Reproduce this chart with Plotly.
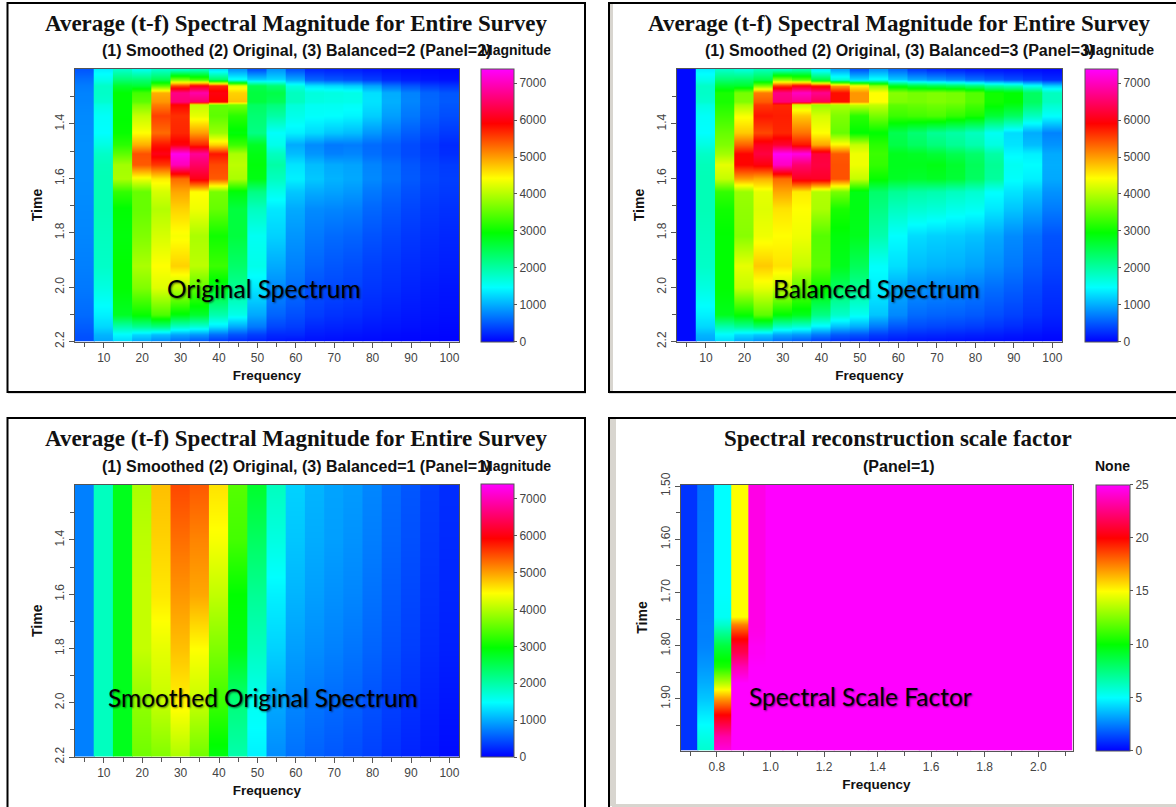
import plotly.graph_objects as go

W, H = 1176, 807

# ---------- data ----------
freq = [5, 10, 15, 20, 25, 30, 35, 40, 45, 50, 55, 60, 65, 70, 75, 80, 85, 90, 95, 100]
times = [1.20, 1.235, 1.26, 1.285, 1.318, 1.33, 1.37, 1.43, 1.475, 1.51, 1.55, 1.60, 1.65, 1.71, 1.81, 1.92, 2.00, 2.10, 2.145, 2.175, 2.20]

original = [
    [500,650,720,760,770,780,800,820,830,830,830,830,820,800,780,740,700,620,540,480,450],
    [1400,1600,1800,1800,1750,1650,1520,1480,1650,1800,1880,1900,1900,1900,1850,1800,1650,1400,1250,1050,950],
    [1800,2300,2700,2950,2950,2950,2950,3000,3200,3500,3900,3950,3250,2950,2900,2950,2950,2750,1950,1450,1250],
    [1600,2300,2650,3350,3500,3700,4100,4440,4900,5450,5400,4350,3550,3550,3700,3950,3700,3000,2100,1250,950],
    [1800,2500,3500,4900,5050,5200,5550,5300,5800,6050,5600,4550,4200,4000,4200,4440,4250,3400,2200,1100,780],
    [1800,3700,5500,6700,6600,5900,5650,5700,6000,7300,7000,5300,4950,4700,4400,4700,4050,2900,1800,950,600],
    [1900,3400,6000,6900,6500,4100,4300,5000,5700,6800,6500,6050,4450,4350,3950,4050,3500,2700,1700,870,470],
    [1330,2400,5700,6000,5900,3550,3500,3850,4700,5800,5500,5400,3650,3550,3050,3300,2800,1950,1330,640,300],
    [870,1550,4300,4700,4800,3650,3200,2900,3300,3950,4050,3950,2900,2600,2600,2350,2100,1600,980,470,230],
    [470,1220,2500,2600,2600,2400,2300,2200,2750,2850,2900,2850,2200,1850,1550,1600,1350,980,700,350,180],
    [870,1280,2300,2550,2450,2250,2000,1500,1600,1850,2000,1850,1600,1350,1220,990,810,580,400,230,120],
    [470,990,1650,1850,1850,1700,1600,1400,990,1100,1330,1400,1160,990,870,750,640,460,350,230,90],
    [230,580,1330,1680,1650,1550,1500,1270,810,870,1100,1160,990,810,700,580,460,350,230,150,80],
    [200,500,1270,1650,1620,1550,1480,1160,700,750,990,1040,940,780,620,500,420,290,200,130,70],
    [180,450,1200,1620,1600,1520,1430,1100,720,780,950,980,880,740,580,450,380,260,180,110,60],
    [130,350,950,1300,1320,1300,1200,880,620,640,770,800,700,600,480,370,310,210,140,90,50],
    [80,230,650,1000,1020,1000,920,700,540,540,640,660,580,500,400,310,260,170,120,70,40],
    [50,160,480,760,780,760,700,540,430,430,500,520,460,400,320,250,200,130,90,50,30],
    [40,120,360,580,600,590,540,420,330,340,390,410,370,320,260,200,150,100,70,40,20],
    [30,90,300,500,520,500,450,330,240,260,340,360,330,280,220,170,120,80,50,30,15],
]

balanced = [
    [50,50,50,50,50,50,50,50,50,50,50,50,50,50,50,50,50,50,50,50,50],
    [1400,1600,1800,1800,1750,1650,1520,1480,1650,1800,1880,1900,1900,1900,1850,1800,1650,1400,1250,1050,950],
    [1800,2300,2700,3100,3100,3150,3300,3550,3700,3900,4300,4100,3250,3050,2950,2950,2950,2800,1950,1450,1250],
    [1700,2350,2700,3650,3700,3950,4400,4750,5350,5900,5900,5000,3850,3800,3750,4300,4100,3000,2100,1250,950],
    [1900,2550,3700,5200,5400,5600,5800,5500,6100,6300,6000,4900,4300,4250,4350,4750,4300,3500,2300,1150,800],
    [1850,3800,5600,6700,6600,5700,5750,5700,6200,7350,7050,5300,4950,4600,4440,4600,4100,2950,1800,950,600],
    [2000,3500,6000,7050,6700,4150,4750,5250,5800,7250,6550,6100,4550,4440,4350,4100,3550,2800,1700,880,480],
    [1400,2600,5800,6750,6400,3850,4200,4440,4950,6250,6300,6150,4000,3950,3450,3500,3050,2200,1400,700,330],
    [950,1750,5000,5850,5850,3950,3700,3550,4500,5400,5450,5450,3650,3100,2900,2800,2400,1800,1100,520,250],
    [500,1300,4500,5050,5050,4100,3200,2950,4100,4350,4350,4100,2850,2850,2800,2450,2100,1550,1000,480,200],
    [870,1550,3800,4440,4440,4100,3650,2950,3200,3300,3250,3000,2350,2200,1950,1500,1400,1150,700,350,150],
    [600,1200,2800,3750,3700,3500,3300,2500,2550,2800,2800,2750,2100,1850,1480,1300,1000,800,500,280,120],
    [350,1000,2600,3650,3650,3550,3350,2300,2400,2750,2800,2700,2000,1750,1280,1100,850,620,430,240,100],
    [250,900,2500,3700,3700,3600,3400,2100,2250,2650,2850,2750,1950,1700,1220,1050,800,580,400,220,90],
    [200,800,2400,3650,3650,3550,3250,2000,2100,2500,2700,2650,1850,1600,1190,1020,780,560,380,200,80],
    [150,650,2250,3450,3450,3350,3100,1850,1950,2350,2450,2400,1750,1550,1130,950,720,520,350,180,70],
    [120,550,2000,3050,3050,3000,2650,1550,1650,2000,2100,2050,1500,1350,990,830,640,450,300,160,60],
    [100,450,1900,2950,2950,2850,2400,1280,1330,1450,1550,1500,1330,1150,810,700,550,380,250,130,50],
    [70,350,1550,2400,2400,2300,1850,1000,1100,1400,1480,1400,1150,950,650,540,420,300,190,100,40],
    [50,250,1200,1850,1850,1750,1500,760,860,990,1010,980,850,720,480,400,300,210,130,70,30],
]

times_smooth = [1.2, 1.4, 1.6, 1.8, 2.0, 2.2]
smoothed = [
    [740,740,740,740,740,740],
    [1850,1850,1850,1850,1850,1850],
    [2800,2800,2800,2800,2800,2800],
    [3950,4050,4100,4100,3800,3600],
    [4810,4700,4570,4300,4100,3700],
    [5500,5280,5050,4800,4500,3950],
    [5400,5150,4950,4440,4100,3600],
    [4600,4400,4080,3700,3300,2850],
    [3450,3350,2960,2850,2250,1950],
    [2700,2400,2100,1850,1550,1400],
    [1850,1650,1400,1220,980,810],
    [1220,1150,1050,920,780,650],
    [1050,1000,920,820,680,560],
    [950,920,840,750,620,500],
    [900,850,780,680,560,440],
    [780,730,660,580,470,370],
    [620,580,520,460,370,280],
    [500,460,410,360,280,200],
    [360,330,290,250,190,130],
    [260,240,210,180,120,60],
]

freq_scale = [0.696,0.760,0.823,0.887,0.951,1.015,1.078,1.142,1.206,1.270,1.333,1.397,
              1.461,1.525,1.588,1.652,1.716,1.779,1.843,1.907,1.971,2.034,2.098]
times_scale = [1.50,1.60,1.70,1.745,1.76,1.78,1.80,1.81,1.84,1.87,1.90,1.93,1.97,2.00]
scale_first = [
    [1.0,1.0,1.0,1.0,1.0,1.0,1.0,1.0,1.0,1.0,1.0,1.0,1.0,1.0],
    [2.2,2.3,2.4,2.45,2.5,2.5,2.6,2.7,3.0,3.4,3.9,4.6,5.5,6.0],
    [5,5,5,5.2,6,7.5,8.8,9.3,10.5,13.5,17,20,23.3,24.5],
    [15,15,15,15,17.5,19.5,21,21.5,23.5,25,25,25,25,25],
    [24.5,24.5,24.5,24.5,24.5,24.6,24.8,24.8,25,25,25,25,25,25],
]
scale_rest = [25, 25, 25, 25, 25, 25, 25, 25, 25, 25, 25, 25, 25, 25, 25, 25, 25, 25]

mag_ticks = [0, 1000, 2000, 3000, 4000, 5000, 6000, 7000]
scale_ticks = [0, 5, 10, 15, 20, 25]
time_major = [1.4, 1.6, 1.8, 2.0, 2.2]
time_minor = [1.3, 1.5, 1.7, 1.9, 2.1]

title_main = "Average (t-f) Spectral Magnitude for Entire Survey"
subtitle_fmt = "(1) Smoothed (2) Original, (3) Balanced={n} (Panel={n})"

# ---------- styling ----------
RAINBOW = [[0, "#0000ff"], [0.2, "#00ffff"], [0.4, "#00ff00"],
           [0.6, "#ffff00"], [0.8, "#ff0000"], [1, "#ff00ff"]]
AXC = "#555555"
TXT = "#444444"
SANS = "Liberation Sans"
SERIF = "Liberation Serif"
LABEL = "Lato"
OVERLAP = 1.05   # each column is drawn a hair wider so no seam shows between images


def fx(px):
    return px / W


def fy(py):
    return 1 - py / H


fig = go.Figure()


def add_panel(idx, xs, width, ts, cols, zmax, box, xr, yr, xmaj, xmin, ymaj, ymin, yfmt, cbx, cbticks):
    suffix = "" if idx == 1 else str(idx)
    for f, col in zip(xs, cols):
        half = width / 4 * OVERLAP
        fig.add_trace(go.Heatmap(
            x=[f - half, f + half], y=ts, z=[[v, v] for v in col],
            zsmooth="best", coloraxis="coloraxis" + suffix,
            xaxis="x" + suffix, yaxis="y" + suffix, hoverinfo="skip"))
    x0, x1, y0, y1 = box
    axis_common = dict(showgrid=False, zeroline=False, showline=True, mirror=True,
                       linecolor=AXC, linewidth=1, ticks="outside", ticklen=5,
                       tickcolor=AXC, tickfont=dict(family=SANS, size=12, color=TXT))
    title_font = dict(family=SANS, size=13.5, color="#111111", weight="bold")
    fig.layout["xaxis" + suffix] = dict(
        domain=[fx(x0), fx(x1)], range=xr, anchor="y" + suffix,
        tick0=0, dtick=xmaj, tickformat=".1f" if xmaj < 1 else "d",
        minor=dict(dtick=xmin, ticks="outside", ticklen=4, tickcolor=AXC),
        title=dict(text="Frequency", font=title_font, standoff=6), **axis_common)
    yaxis = dict(
        domain=[fy(y1), fy(y0)], range=yr, anchor="x" + suffix,
        tickangle=-90, tickformat=yfmt,
        title=dict(text="Time", font=dict(title_font, size=14), standoff=7), **axis_common)
    if ymaj is None:
        yaxis.update(tickmode="array", tickvals=time_major,
                     minor=dict(tickmode="array", tickvals=time_minor, ticks="outside",
                                ticklen=4, tickcolor=AXC))
    else:
        yaxis.update(tick0=0, dtick=ymaj,
                     minor=dict(dtick=ymin, ticks="outside", ticklen=4, tickcolor=AXC))
    fig.layout["yaxis" + suffix] = yaxis
    fig.layout["coloraxis" + suffix] = dict(
        colorscale=RAINBOW, cmin=0, cmax=zmax,
        colorbar=dict(x=fx(cbx[0]), xanchor="left", xpad=0, ypad=0,
                      y=fy(y1), yanchor="bottom", len=(y1 - y0) / H, lenmode="fraction",
                      thickness=cbx[1] - cbx[0], thicknessmode="pixels",
                      outlinecolor=AXC, outlinewidth=1, tickvals=cbticks,
                      ticks="outside", ticklen=3, tickcolor=AXC,
                      tickfont=dict(family=SANS, size=12, color=TXT)))


YR = [2.2, 1.196]
add_panel(1, freq, 5, times, original, 7400, (75, 459, 68.5, 341.5), [2.5, 102.5], YR,
          10, 5, None, None, ".1f", (481, 514), mag_ticks)
add_panel(2, freq, 5, times, balanced, 7400, (677, 1062, 68.5, 341.5), [2.5, 102.5], YR,
          10, 5, None, None, ".1f", (1085, 1118), mag_ticks)
add_panel(3, freq, 5, times_smooth, smoothed, 7400, (75, 459, 484.5, 757), [2.5, 102.5], YR,
          10, 5, None, None, ".1f", (481, 514), mag_ticks)
add_panel(4, freq_scale, 0.0639, times_scale, scale_first + [[v] * len(times_scale) for v in scale_rest],
          25, (680.5, 1072.5, 484.5, 750.5), [0.664, 2.128], [1.997, 1.497],
          0.2, 0.1, 0.1, 0.05, ".2f", (1095.5, 1129), scale_ticks)


def note(text, cx, cy, family, size, bold=False, color="#111111", shadow=None):
    font = dict(family=family, size=size, color=color)
    if bold:
        font["weight"] = "bold"
    if shadow:
        font["shadow"] = shadow
    return dict(text=text, x=fx(cx), y=fy(cy), xref="paper", yref="paper",
                xanchor="center", yanchor="middle", showarrow=False, font=font)


SH = "1px 1px 2px rgba(0,0,0,0.55)"
annotations = [
    note(title_main, 297, 23, SERIF, 23, True),
    note(title_main, 899, 23, SERIF, 23, True),
    note(title_main, 297, 438, SERIF, 23, True),
    note("Spectral reconstruction scale factor", 898, 438, SERIF, 23, True),
    note(subtitle_fmt.format(n=2), 296, 50, SANS, 16, True),
    note(subtitle_fmt.format(n=3), 899, 50, SANS, 16, True),
    note(subtitle_fmt.format(n=1), 296, 466, SANS, 16, True),
    note("(Panel=1)", 899, 466, SANS, 16, True),
    note("Magnitude", 516, 50, SANS, 14, True),
    note("Magnitude", 1119, 50, SANS, 14, True),
    note("Magnitude", 516, 466, SANS, 14, True),
    note("None", 1112, 466, SANS, 14, True),
    note("Original Spectrum", 264, 288, LABEL, 24.5, False, "#000000", SH),
    note("Balanced Spectrum", 876, 288, LABEL, 24.5, False, "#000000", SH),
    note("Smoothed Original Spectrum", 263, 697, LABEL, 24.5, False, "#000000", SH),
    note("Spectral Scale Factor", 860, 696, LABEL, 24.5, False, "#000000", SH),
]


def rect(x0, y0, x1, y1, line=None, fill=None, width=2):
    return dict(type="rect", xref="paper", yref="paper", layer="below",
                x0=fx(x0), x1=fx(x1), y0=fy(y1), y1=fy(y0),
                line=dict(color=line or "rgba(0,0,0,0)", width=width if line else 0),
                fillcolor=fill or "rgba(0,0,0,0)")


GREY = "#d8d5cf"
shapes = [
    rect(609, 3, 613, 391, fill=GREY),
    rect(609, 418, 616, 806, fill=GREY),
    rect(612, 804, 1176, 807, fill=GREY),
    rect(8, 392.5, 586, 393.5, fill="#bbbbbb"),
    rect(609, 392.5, 1176, 393.5, fill="#bbbbbb"),
    rect(7.5, 3, 585, 392, line="#000000"),
    rect(609, 3, 1180, 392, line="#000000"),
    rect(7.5, 418, 585, 812, line="#000000"),
    rect(609, 418, 1180, 812, line="#000000"),
]

fig.update_layout(width=W, height=H, margin=dict(l=0, r=0, t=0, b=0, autoexpand=False), autosize=False,
                  paper_bgcolor="white", plot_bgcolor="white", showlegend=False,
                  annotations=annotations, shapes=shapes)

fig.write_html("out.html", config={"displayModeBar": False},
               post_script="document.body.style.margin='0';document.body.style.overflow='hidden';")
